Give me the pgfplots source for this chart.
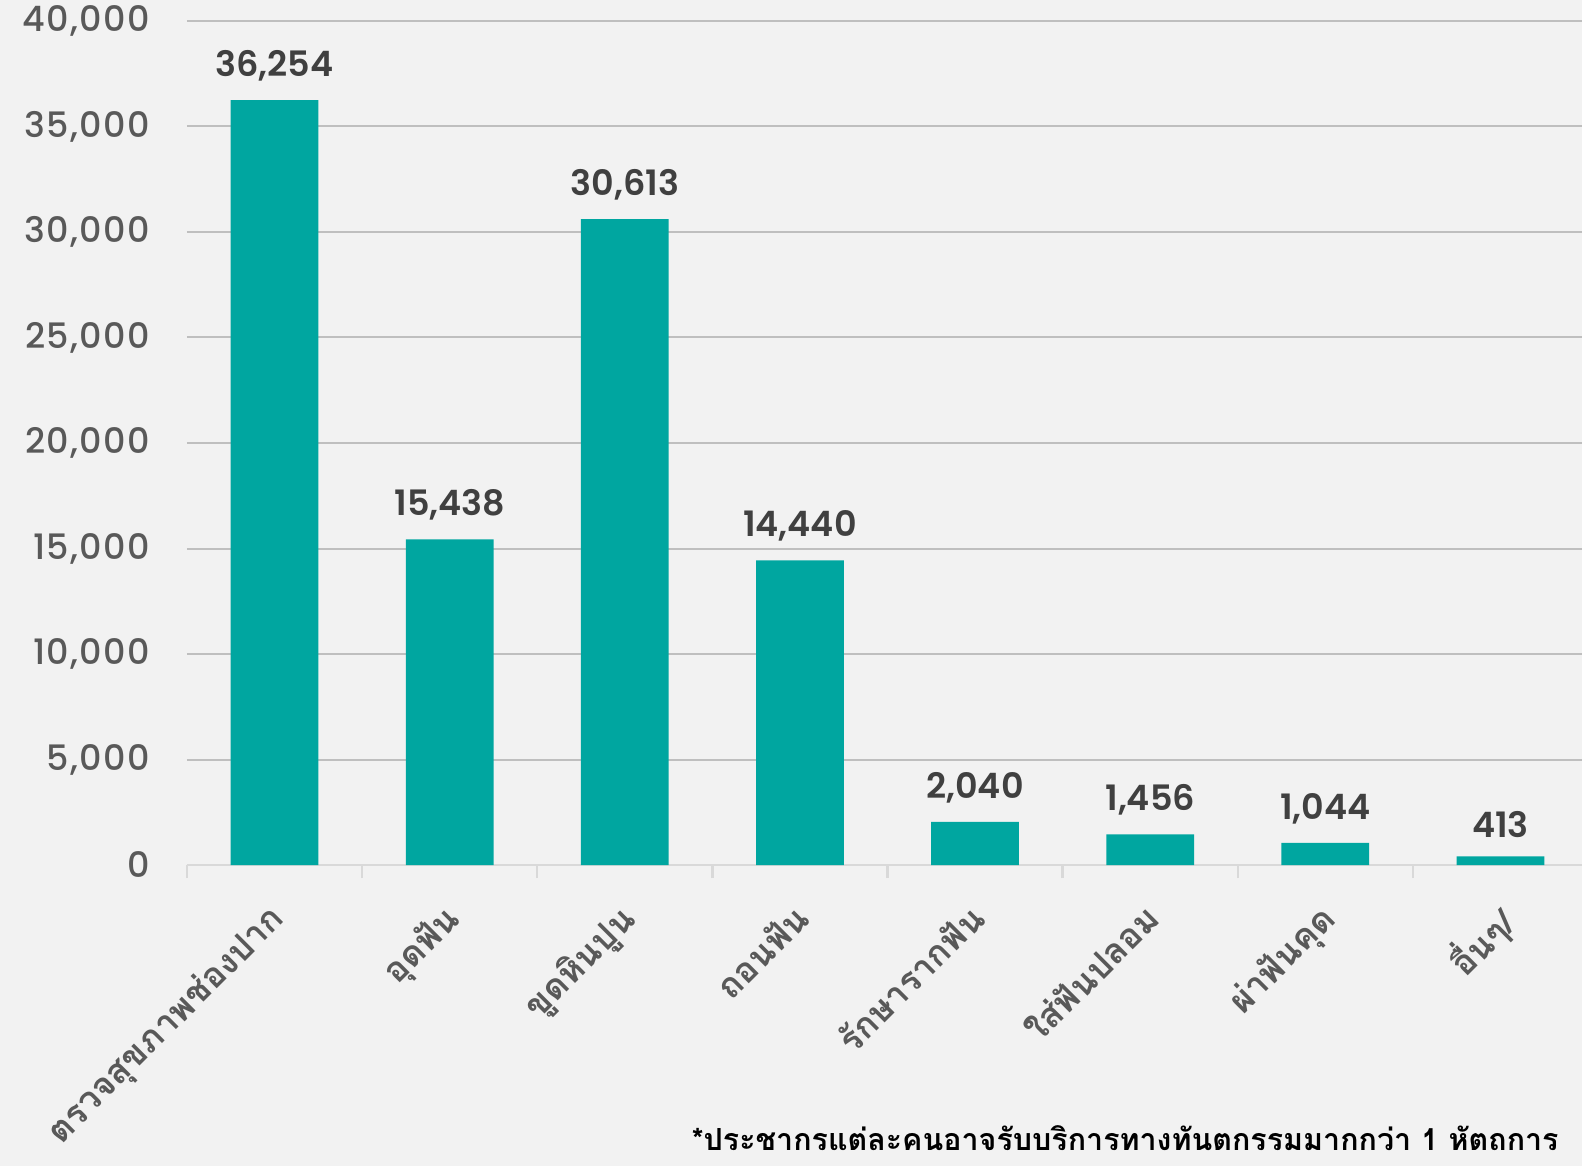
\documentclass[border=0pt]{standalone}
\usepackage{fontspec}
\usepackage{pgfplots}
\pgfplotsset{compat=1.18}
\setmainfont{Poppins}
\newfontfamily\popmed{Poppins Medium}[LetterSpace=4]
\newfontfamily\popsemi{Poppins SemiBold}
\newfontfamily\thaifont[Script=Thai]{Loma}
\definecolor{bg}{HTML}{F2F2F2}
\definecolor{bar}{HTML}{00A6A0}
\definecolor{tick}{HTML}{595959}
\definecolor{val}{HTML}{404040}
\definecolor{grid}{HTML}{C6C6C6}
\definecolor{base}{HTML}{D9D9D9}
\begin{document}
\begin{tikzpicture}
\fill[bg] (-93.5pt,-150.5pt) rectangle (697.5pt,432.5pt);
\begin{axis}[
    scale only axis,
    width=700.5pt, height=422pt,
    at={(0,0)}, anchor=south west,
    ymin=0, ymax=40000,
    xmin=-0.5, xmax=7.5,
    ytick distance=5000,
    scaled y ticks=false,
    xmajorgrids=false,
    ymajorgrids=true,
    grid style={grid, line width=1pt},
    axis x line*=bottom,
    axis y line*=left,
    y axis line style={draw=none},
    x axis line style={base, line width=1.2pt},
    xtick={-0.5,0.5,...,7.5},
    xticklabels={},
    extra x ticks={0,1,2,3,4,5,6,7},
    extra x tick labels={ตรวจสุขภาพช่องปาก,อุดฟัน,ขูดหินปูน,ถอนฟัน,รักษารากฟัน,ใส่ฟันปลอม,ผ่าฟันคุด,อื่นๆ/},
    extra x tick style={major tick length=0pt, xmajorgrids=false,
        xticklabel style={font=\thaifont\bfseries\fontsize{17.5pt}{17.5pt}\selectfont, text=tick, xshift=-4pt, yshift=-15pt, rotate=45, anchor=north east, inner sep=2pt}},
    major tick length=6.5pt,
    tick align=outside,
    x tick style={base, line width=1.2pt},
    ytick style={draw=none},
    y tick label style={font=\popmed\fontsize{17.5pt}{17.5pt}\selectfont, text=tick, xshift=-8.5pt},
    /pgf/number format/assume math mode=true,
    /pgf/number format/1000 sep={,},
    ybar,
    bar width=43.9pt,
    nodes near coords,
    every node near coord/.append style={font=\popsemi\fontsize{17.5pt}{17.5pt}\selectfont, text=val, /pgf/number format/1000 sep={,}, /pgf/number format/assume math mode=true, yshift=6pt},
    clip=false,
]
\addplot[fill=bar, draw=none] coordinates {
    (0,36254) (1,15438) (2,30613) (3,14440) (4,2040) (5,1456) (6,1044) (7,413)
};
\end{axis}
\node[anchor=base east, font=\thaifont\bfseries\fontsize{15.2pt}{15.2pt}\selectfont, text=black, inner sep=0pt] at (686pt,-142.5pt) {*ประชากรแต่ละคนอาจรับบริการทางทันตกรรมมากกว่า 1 หัตถการ};
\pgfresetboundingbox
\path[use as bounding box] (-93.5pt,-150.5pt) rectangle (697.5pt,432.5pt);
\end{tikzpicture}
\end{document}
